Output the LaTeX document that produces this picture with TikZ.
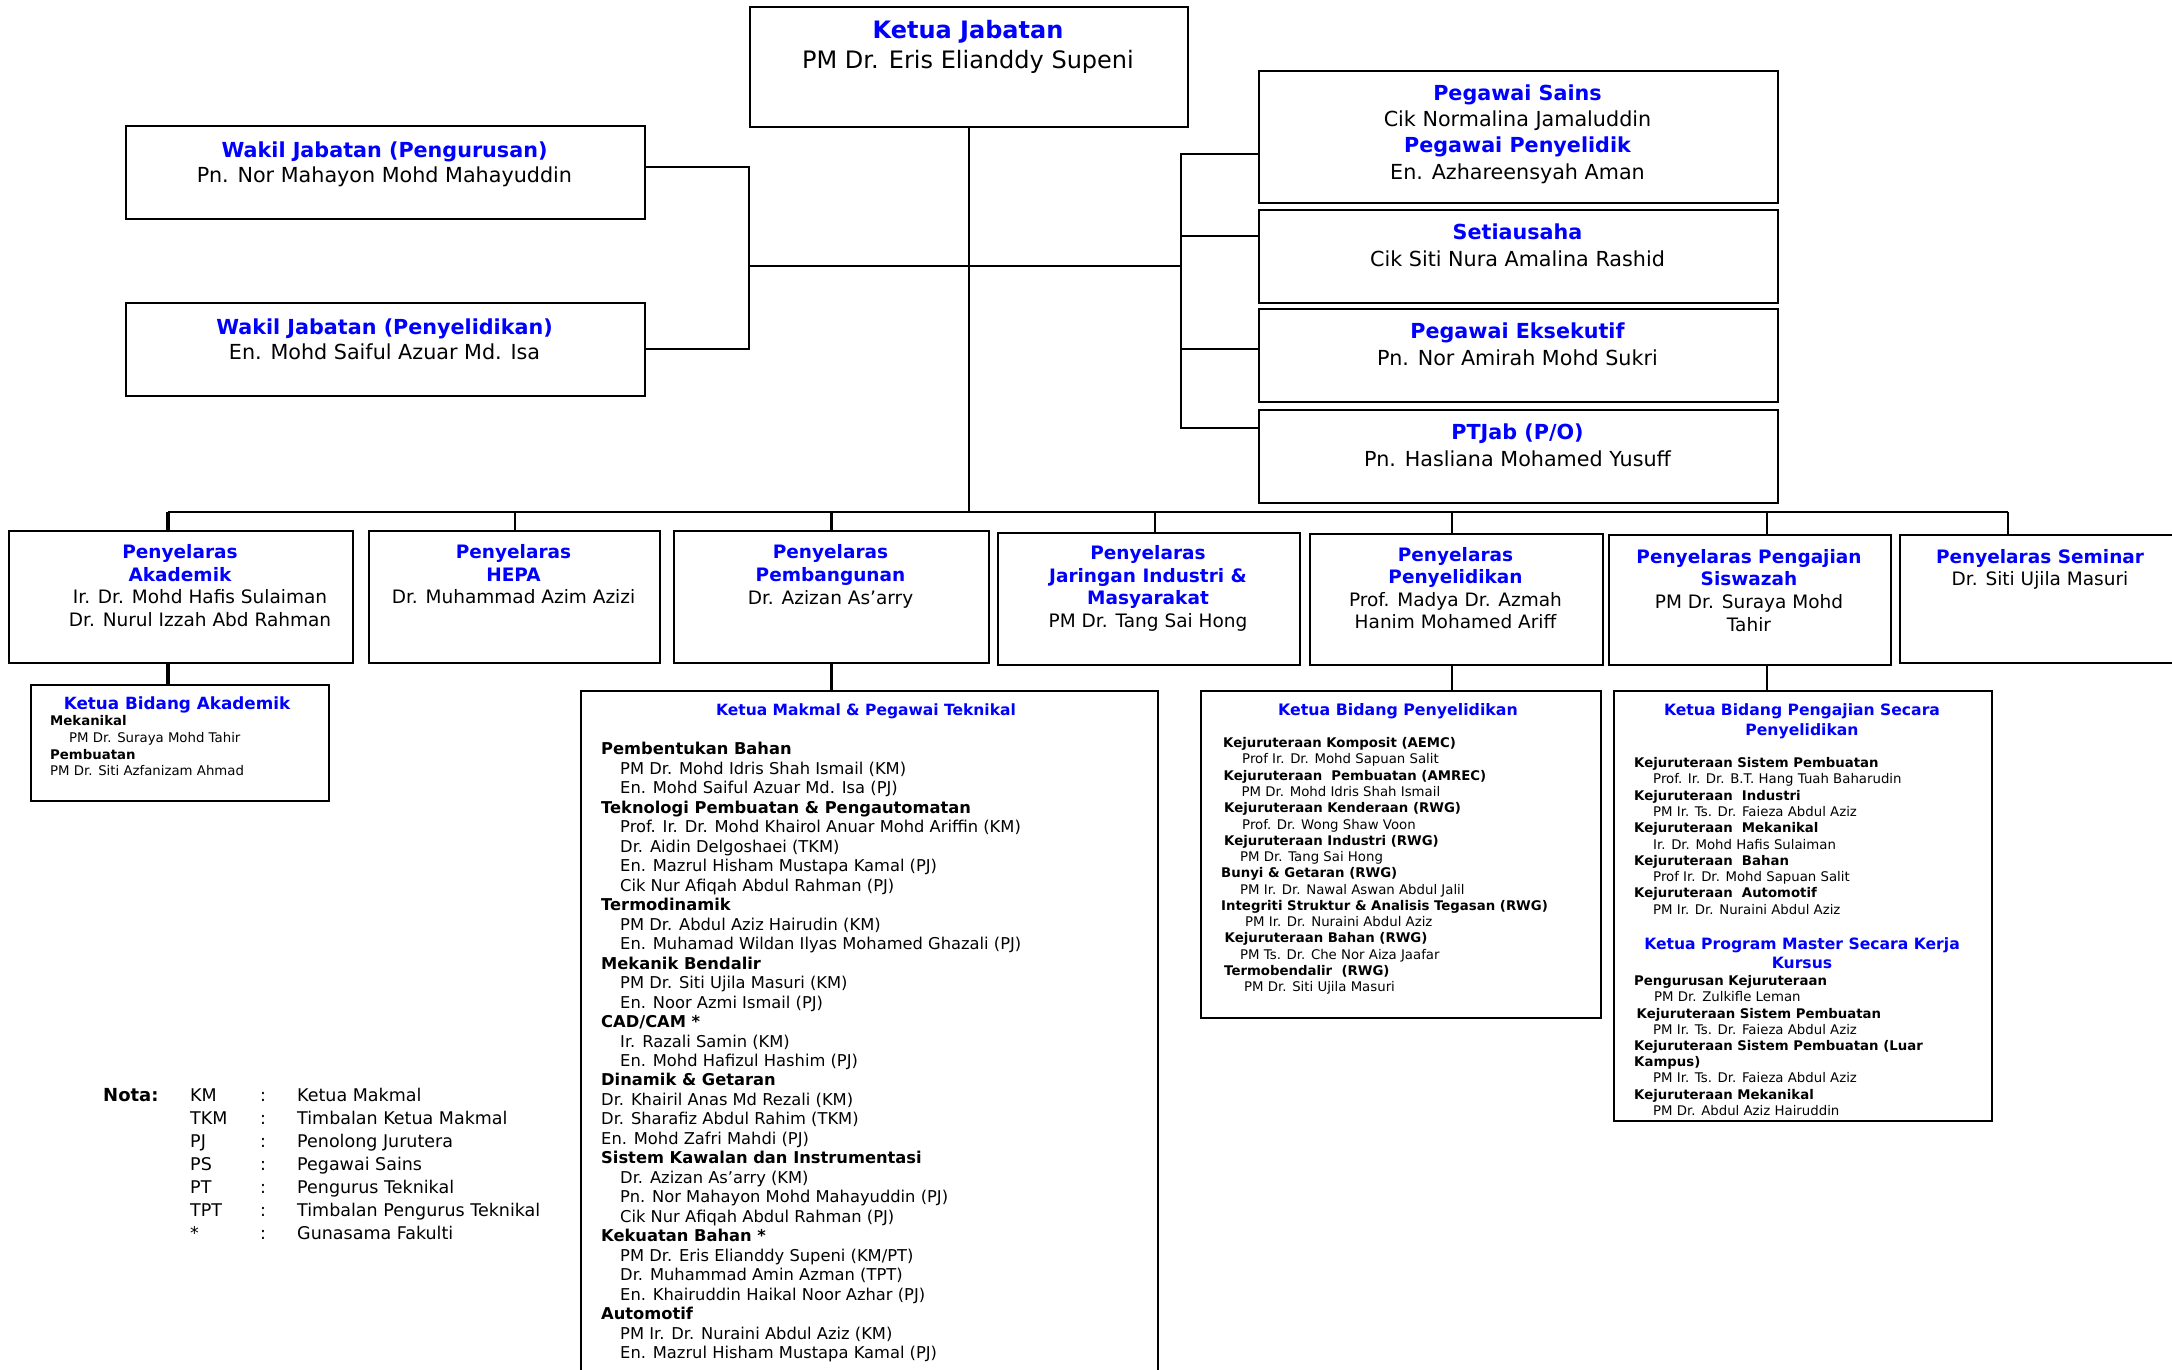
\documentclass[tikz,border=0pt]{standalone}
\usepackage{fontspec}
\setmainfont{DejaVu Sans}
\definecolor{ttlblue}{RGB}{0,0,255}
\newcommand\fsz[2]{\fontsize{#1}{#2}\selectfont}
\newcommand\ttl[1]{{\color{ttlblue}\bfseries #1}}
\newcommand\idt[1]{\hspace*{#1pt}}
\newcommand\bld[1]{\textbf{#1}}
\begin{document}
\begin{tikzpicture}[x=1pt,y=-1pt,
  box/.style={draw=black,line width=2.2pt,fill=white,inner sep=0pt,anchor=north west},
  conn/.style={draw=black,line width=2pt},
  thk/.style={draw=black,line width=3.6pt},
  busline/.style={draw=black,line width=2.8pt},
  txt/.style={inner sep=0pt,align=center,anchor=north},
  ltxt/.style={inner sep=0pt,align=left,anchor=north west}]
\path[use as bounding box] (0,0) rectangle (2172,1369);
\clip (0,0) rectangle (2172,1369);
\fill[white] (0,0) rectangle (2172,1369);

% ---------- boxes ----------
\node[box,minimum width=438pt,minimum height=120pt] (kj) at (749,6) {};
\node[box,minimum width=519pt,minimum height=93pt] (w1) at (125,125) {};
\node[box,minimum width=519pt,minimum height=93pt] (w2) at (125,302) {};
\node[box,minimum width=519pt,minimum height=132pt] (ps) at (1258,70) {};
\node[box,minimum width=519pt,minimum height=93pt] (se) at (1258,209) {};
\node[box,minimum width=519pt,minimum height=93pt] (ek) at (1258,308) {};
\node[box,minimum width=519pt,minimum height=93pt] (pt) at (1258,409) {};
\node[box,minimum width=344pt,minimum height=132pt] (pa) at (8,530) {};
\node[box,minimum width=291pt,minimum height=132pt] (ph) at (368,530) {};
\node[box,minimum width=315pt,minimum height=132pt] (pb) at (673,530) {};
\node[box,minimum width=302pt,minimum height=132pt] (pj) at (997,532) {};
\node[box,minimum width=293pt,minimum height=131pt] (pp) at (1309,533) {};
\node[box,minimum width=282pt,minimum height=130pt] (pg) at (1608,534) {};
\node[box,minimum width=290pt,minimum height=128pt] (psm) at (1899,534) {};
\node[box,minimum width=298pt,minimum height=116pt] (kba) at (30,684) {};
\node[box,minimum width=577pt,minimum height=700pt] (km) at (580,690) {};
\node[box,minimum width=400pt,minimum height=327pt] (kbp) at (1200,690) {};
\node[box,minimum width=378pt,minimum height=430pt] (kbs) at (1613,690) {};

% ---------- connectors ----------
\coordinate (jl) at (749,266);
\coordinate (jr) at (1181,266);
\coordinate (rt) at (1181,154);
\coordinate (rb) at (1181,428);
\coordinate (busL) at (168,512);
\coordinate (busR) at (2008,512);
\draw[conn] (kj.south) -- (kj.south |- busL);
\draw[conn] (jl) -- (jr);
\draw[conn] (w1.east |- 0,167) -| (jl) |- (w2.east |- 0,349);
\draw[conn] (ps.west |- rt) -- (rt) -- (rb) -- (pt.west |- rb);
\draw[conn] (rt |- 0,236) -- (se.west |- 0,236);
\draw[conn] (rt |- 0,349) -- (ek.west |- 0,349);
\draw[busline] (busL) -- (busR);
\draw[thk] (busL) -- (busL |- pa.north);
\draw[conn] (ph.north |- busL) -- (ph.north);
\draw[thk] (pb.north |- busL) -- (pb.north);
\draw[conn] (busL -| 1155,0) -- (pj.north -| 1155,0);
\draw[conn] (busL -| 1452,0) -- (pp.north -| 1452,0);
\draw[conn] (busL -| 1767,0) -- (pg.north -| 1767,0);
\draw[conn] (busR) -- (busR |- psm.north);
\draw[thk] (pa.south -| busL) -- (kba.north -| busL);
\draw[thk] (pb.south) -- (pb.south |- km.north);
\draw[conn] (pp.south -| 1452,0) -- (kbp.north -| 1452,0);
\draw[conn] (pg.south -| 1767,0) -- (kbs.north -| 1767,0);

% ---------- top texts ----------
\node[txt,font=\fsz{24}{29.5}] (kjt) at (968,20.4) {\ttl{Ketua Jabatan}\\PM Dr. Eris Elianddy Supeni};
\node[txt,font=\fsz{20.7}{25.5}] (w1t) at (384.5,141.3) {\ttl{Wakil Jabatan (Pengurusan)}\\Pn. Nor Mahayon Mohd Mahayuddin};
\node[txt,font=\fsz{20.7}{25.5}] (w2t) at (384.5,318.3) {\ttl{Wakil Jabatan (Penyelidikan)}\\En. Mohd Saiful Azuar Md. Isa};
\node[txt,font=\fsz{20.7}{26.2}] (pst) at (1517.5,84.6) {\ttl{Pegawai Sains}\\Cik Normalina Jamaluddin\\\ttl{Pegawai Penyelidik}\\En. Azhareensyah Aman};
\node[txt,font=\fsz{20.7}{26.2}] (set) at (1517.5,224) {\ttl{Setiausaha}\\Cik Siti Nura Amalina Rashid};
\node[txt,font=\fsz{20.7}{26.2}] (ekt) at (1517.5,323) {\ttl{Pegawai Eksekutif}\\Pn. Nor Amirah Mohd Sukri};
\node[txt,font=\fsz{20.7}{26.2}] (ptt) at (1517.5,424) {\ttl{PTJab (P/O)}\\Pn. Hasliana Mohamed Yusuff};

% ---------- row 2 texts ----------
\node[txt,font=\fsz{18.5}{22.7}] (pat) at (180,544.2) {\ttl{Penyelaras}\\\ttl{Akademik}};
\node[txt,font=\fsz{18.5}{22.7}] (pan) at (200,589.2) {Ir. Dr. Mohd Hafis Sulaiman\\Dr. Nurul Izzah Abd Rahman};
\node[txt,font=\fsz{18.5}{22.7}] (pht) at (513.5,544.2) {\ttl{Penyelaras}\\\ttl{HEPA}\\Dr. Muhammad Azim Azizi};
\node[txt,font=\fsz{18.5}{23}] (pbt) at (830.5,544) {\ttl{Penyelaras}\\\ttl{Pembangunan}\\Dr. Azizan As’arry};
\node[txt,font=\fsz{18.5}{22.5}] (pjt) at (1148,545.5) {\ttl{Penyelaras}\\\ttl{Jaringan Industri \&}\\\ttl{Masyarakat}\\PM Dr. Tang Sai Hong};
\node[txt,font=\fsz{18.5}{22.3}] (ppt) at (1455.5,547.2) {\ttl{Penyelaras}\\\ttl{Penyelidikan}\\Prof. Madya Dr. Azmah\\Hanim Mohamed Ariff};
\node[txt,font=\fsz{18.5}{22.7}] (pgt) at (1749,549) {\ttl{Penyelaras Pengajian}\\\ttl{Siswazah}\\PM Dr. Suraya Mohd\\Tahir};
\node[txt,font=\fsz{18.5}{22.5}] (psmt) at (2040,549) {\ttl{Penyelaras Seminar}\\Dr. Siti Ujila Masuri};

% ---------- Ketua Bidang Akademik ----------
\node[txt,font=\fsz{16.8}{20}] (kbat) at (177,697) {\ttl{Ketua Bidang Akademik}};
\node[ltxt,font=\fsz{13.3}{16.7}] (kbab) at (50,715.4) {\bld{Mekanikal}\\\idt{19}PM Dr. Suraya Mohd Tahir\\\bld{Pembuatan}\\PM Dr. Siti Azfanizam Ahmad};

% ---------- Ketua Makmal ----------
\node[txt,font=\fsz{15.5}{19}] (kmt) at (866,703.5) {\ttl{Ketua Makmal \& Pegawai Teknikal}};
\node[ltxt,font=\fsz{16.3}{19.48}] (kmb) at (601,742.2) {%
\bld{Pembentukan Bahan}\\
\idt{19}PM Dr. Mohd Idris Shah Ismail (KM)\\
\idt{19}En. Mohd Saiful Azuar Md. Isa (PJ)\\
\bld{Teknologi Pembuatan \& Pengautomatan}\\
\idt{19}Prof. Ir. Dr. Mohd Khairol Anuar Mohd Ariffin (KM)\\
\idt{19}Dr. Aidin Delgoshaei (TKM)\\
\idt{19}En. Mazrul Hisham Mustapa Kamal (PJ)\\
\idt{19}Cik Nur Afiqah Abdul Rahman (PJ)\\
\bld{Termodinamik}\\
\idt{19}PM Dr. Abdul Aziz Hairudin (KM)\\
\idt{19}En. Muhamad Wildan Ilyas Mohamed Ghazali (PJ)\\
\bld{Mekanik Bendalir}\\
\idt{19}PM Dr. Siti Ujila Masuri (KM)\\
\idt{19}En. Noor Azmi Ismail (PJ)\\
\bld{CAD/CAM *}\\
\idt{19}Ir. Razali Samin (KM)\\
\idt{19}En. Mohd Hafizul Hashim (PJ)\\
\bld{Dinamik \& Getaran}\\
Dr. Khairil Anas Md Rezali (KM)\\
Dr. Sharafiz Abdul Rahim (TKM)\\
En. Mohd Zafri Mahdi (PJ)\\
\bld{Sistem Kawalan dan Instrumentasi}\\
\idt{19}Dr. Azizan As’arry (KM)\\
\idt{19}Pn. Nor Mahayon Mohd Mahayuddin (PJ)\\
\idt{19}Cik Nur Afiqah Abdul Rahman (PJ)\\
\bld{Kekuatan Bahan *}\\
\idt{19}PM Dr. Eris Elianddy Supeni (KM/PT)\\
\idt{19}Dr. Muhammad Amin Azman (TPT)\\
\idt{19}En. Khairuddin Haikal Noor Azhar (PJ)\\
\bld{Automotif}\\
\idt{19}PM Ir. Dr. Nuraini Abdul Aziz (KM)\\
\idt{19}En. Mazrul Hisham Mustapa Kamal (PJ)};

% ---------- Ketua Bidang Penyelidikan ----------
\node[txt,font=\fsz{15.8}{19}] (kbpt) at (1398,703.4) {\ttl{Ketua Bidang Penyelidikan}};
\node[ltxt,font=\fsz{13.3}{16.27}] (kbpb) at (1221,737.4) {%
\idt{2}\bld{Kejuruteraan Komposit (AEMC)}\\
\idt{21}Prof Ir. Dr. Mohd Sapuan Salit\\
\idt{2.5}\bld{Kejuruteraan\ \ Pembuatan (AMREC)}\\
\idt{20.5}PM Dr. Mohd Idris Shah Ismail\\
\idt{3}\bld{Kejuruteraan Kenderaan (RWG)}\\
\idt{21}Prof. Dr. Wong Shaw Voon\\
\idt{3}\bld{Kejuruteraan Industri (RWG)}\\
\idt{19}PM Dr. Tang Sai Hong\\
\bld{Bunyi \& Getaran (RWG)}\\
\idt{19}PM Ir. Dr. Nawal Aswan Abdul Jalil\\
\bld{Integriti Struktur \& Analisis Tegasan (RWG)}\\
\idt{24}PM Ir. Dr. Nuraini Abdul Aziz\\
\idt{3.5}\bld{Kejuruteraan Bahan (RWG)}\\
\idt{19}PM Ts. Dr. Che Nor Aiza Jaafar\\
\idt{3}\bld{Termobendalir\ \ (RWG)}\\
\idt{23}PM Dr. Siti Ujila Masuri};

% ---------- Ketua Bidang Pengajian ----------
\node[txt,font=\fsz{15.6}{20}] (kbst) at (1802,703.4) {\ttl{Ketua Bidang Pengajian Secara}\\\ttl{Penyelidikan}};
\node[ltxt,font=\fsz{13.3}{16.26}] (kbsb) at (1634,757.4) {%
\bld{Kejuruteraan Sistem Pembuatan}\\
\idt{19}Prof. Ir. Dr. B.T. Hang Tuah Baharudin\\
\bld{Kejuruteraan\ \ Industri}\\
\idt{19}PM Ir. Ts. Dr. Faieza Abdul Aziz\\
\bld{Kejuruteraan\ \ Mekanikal}\\
\idt{19}Ir. Dr. Mohd Hafis Sulaiman\\
\bld{Kejuruteraan\ \ Bahan}\\
\idt{19}Prof Ir. Dr. Mohd Sapuan Salit\\
\bld{Kejuruteraan\ \ Automotif}\\
\idt{19}PM Ir. Dr. Nuraini Abdul Aziz};
\node[txt,font=\fsz{15.6}{19.3}] (kbst2) at (1802,937.4) {\ttl{Ketua Program Master Secara Kerja}\\\ttl{Kursus}};
\node[ltxt,font=\fsz{13.3}{16.2}] (kbsb2) at (1634,975.4) {%
\bld{Pengurusan Kejuruteraan}\\
\idt{20}PM Dr. Zulkifle Leman\\
\idt{2.5}\bld{Kejuruteraan Sistem Pembuatan}\\
\idt{19}PM Ir. Ts. Dr. Faieza Abdul Aziz\\
\bld{Kejuruteraan Sistem Pembuatan (Luar}\\
\bld{Kampus)}\\
\idt{19}PM Ir. Ts. Dr. Faieza Abdul Aziz\\
\bld{Kejuruteraan Mekanikal}\\
\idt{19}PM Dr. Abdul Aziz Hairuddin};

% ---------- Nota ----------
\node[ltxt,font=\fsz{18}{23}\bfseries] (notal) at (103,1088) {\vphantom{Kl}Nota:};
\node[ltxt,font=\fsz{17.5}{23}] (notaa) at (190,1088) {\vphantom{Kl}KM\\TKM\\PJ\\PS\\PT\\TPT\\*};
\node[ltxt,font=\fsz{17.5}{23}] (notac) at (260,1088) {\vphantom{Kl}:\\:\\:\\:\\:\\:\\:};
\node[ltxt,font=\fsz{17.5}{23}] (notad) at (297,1088) {\vphantom{Kl}Ketua Makmal\\Timbalan Ketua Makmal\\Penolong Jurutera\\Pegawai Sains\\Pengurus Teknikal\\Timbalan Pengurus Teknikal\\Gunasama Fakulti};
\end{tikzpicture}
\end{document}
